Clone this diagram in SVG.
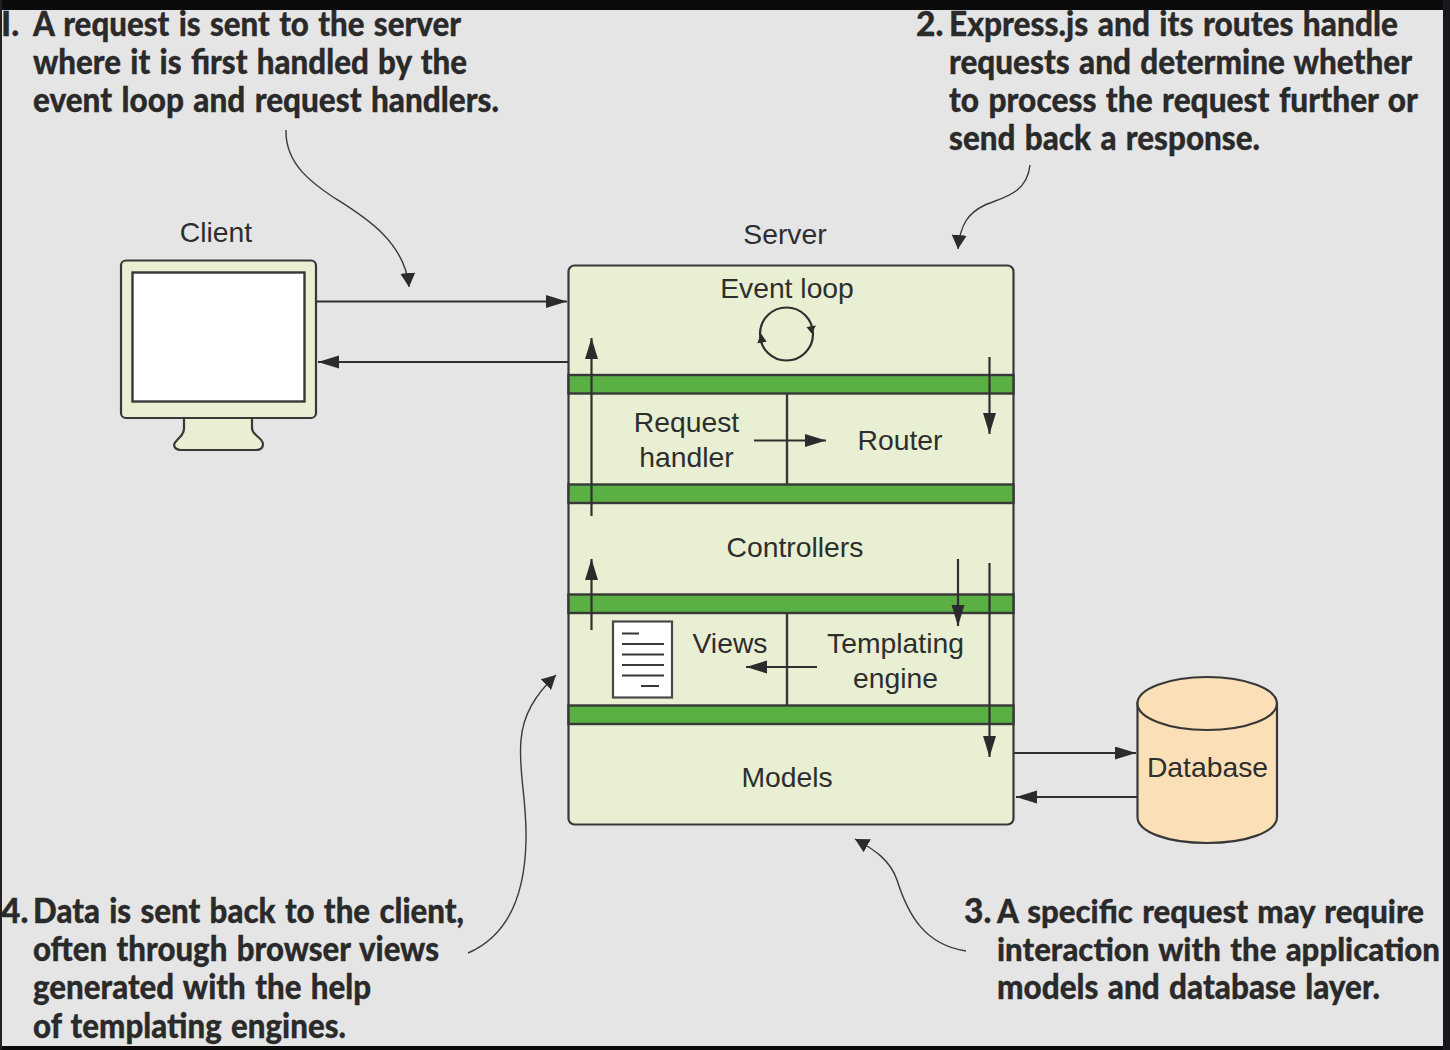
<svg xmlns="http://www.w3.org/2000/svg" width="1450" height="1050" viewBox="0 0 1450 1050">
<style>
.n{font-family:"Liberation Sans",Arial,sans-serif;font-size:28.3px;fill:#2e2e2e;text-anchor:middle}
.c{font-family:"Lato","Open Sans",sans-serif;font-size:33.5px;font-weight:900;fill:#2a2a2a;stroke:#2a2a2a;stroke-width:.3px;word-spacing:2px}
.t{font-size:32px}
.s{stroke:#383838;stroke-width:2.4;fill:none}
.b{fill:#5bb044;stroke:#383838;stroke-width:2.4}
.l{stroke:#2f2f2f;stroke-width:2.2;fill:none}
.q{stroke:#3a3a3a;stroke-width:1.4;fill:none}
.dl{stroke:#383838;stroke-width:2;fill:none}
</style>
<defs>
<marker id="a" markerUnits="userSpaceOnUse" markerWidth="24" markerHeight="16" refX="21" refY="6.500" orient="auto"><path d="M0 0L21 6.500L0 13z" fill="#2b2b2b"/></marker>
<marker id="k" markerUnits="userSpaceOnUse" markerWidth="18" markerHeight="18" refX="14" refY="7.500" orient="auto"><path d="M0 0L14 7.500L0 15z" fill="#2b2b2b"/></marker>
</defs>
<rect width="1450" height="1050" fill="#e5e5e5"/>
<rect width="1450" height="10" fill="#0b0b0b"/>
<rect y="1046" width="1450" height="4" fill="#0b0b0b"/>
<rect width="2" height="1050" fill="#222"/>
<rect x="1443" width="7" height="1050" fill="#16181b"/>
<g id="client">
<text class="n" x="216" y="242">Client</text>
<path d="M184 418V428Q184 433 180 437Q174 443 174 445Q175 450 181 450H256Q263 450 263 444Q263 441 257 436Q252 432 252 428V418z" fill="#e9efd2" stroke="#383838" stroke-width="2.2"/>
<rect x="121" y="260.500" width="195" height="157.500" rx="5" fill="#e9efd2" stroke="#383838" stroke-width="2.2"/>
<rect x="132.500" y="272.500" width="172" height="129" fill="#fff" stroke="#383838" stroke-width="2.4"/>
</g>
<g id="server">
<text class="n" x="785" y="244">Server</text>
<rect x="568.500" y="265.500" width="445" height="559" rx="6" fill="#e9efd2" stroke="#383838" stroke-width="2.2"/>
<rect class="b" x="568.500" y="375" width="445" height="18.500"/>
<rect class="b" x="568.500" y="484.500" width="445" height="18.500"/>
<rect class="b" x="568.500" y="594.500" width="445" height="18.500"/>
<rect class="b" x="568.500" y="705.500" width="445" height="18.500"/>
<line class="s" x1="787" y1="393.500" x2="787" y2="484.500"/>
<line class="s" x1="787" y1="613" x2="787" y2="705.500"/>
</g>
<g id="event-loop">
<text class="n" x="787" y="298">Event loop</text>
<circle class="l" cx="786.500" cy="334" r="26.500"/>
<path d="M806.500 327L816 325.500L811.500 333.500z" fill="#2b2b2b"/>
<path d="M757.300 343.300L766.700 341.700L761 333.500z" fill="#2b2b2b"/>
</g>
<g id="request-handler"><text class="n" x="686.500" y="431.500">Request</text><text class="n" x="686.500" y="467">handler</text></g>
<g id="router"><text class="n" x="900" y="450">Router</text></g>
<g id="controllers"><text class="n" x="795" y="557">Controllers</text></g>
<g id="views">
<text class="n" x="730" y="652.500">Views</text>
<rect x="613" y="621.500" width="59" height="76" fill="#fff" stroke="#4a4a4a" stroke-width="2.2"/>
<path class="dl" d="M622 633.500H639M622 644H664M622 654.500H664M622 665H664M622 675.500H664M641 686H659"/>
</g>
<g id="templating-engine"><text class="n" x="895.500" y="652.500">Templating</text><text class="n" x="895.500" y="688">engine</text></g>
<g id="models"><text class="n" x="787" y="787">Models</text></g>
<g id="database">
<path d="M1137.500 703V817C1137.500 832 1168 843 1207 843S1277 832 1277 817V703z" fill="#fbdfb6" stroke="#383838" stroke-width="2.2"/>
<ellipse cx="1207.200" cy="703.500" rx="69.700" ry="26.500" fill="#fbdfb6" stroke="#383838" stroke-width="2.2"/>
<text class="n" x="1207.500" y="777">Database</text>
</g>
<g id="connectors">
<line class="l" x1="317" y1="301.500" x2="567" y2="301.500" marker-end="url(#a)"/>
<line class="l" x1="568" y1="362" x2="318" y2="362" marker-end="url(#a)"/>
<line class="l" x1="591.500" y1="516" x2="591.500" y2="338" marker-end="url(#a)"/>
<line class="l" x1="989.500" y1="357" x2="989.500" y2="434" marker-end="url(#a)"/>
<line class="l" x1="754" y1="440.500" x2="826" y2="440.500" marker-end="url(#a)"/>
<line class="l" x1="591.500" y1="630" x2="591.500" y2="559" marker-end="url(#a)"/>
<line class="l" x1="958" y1="559" x2="958" y2="626" marker-end="url(#a)"/>
<line class="l" x1="989.500" y1="563" x2="989.500" y2="757" marker-end="url(#a)"/>
<line class="l" x1="817" y1="667" x2="746" y2="667" marker-end="url(#a)"/>
<line class="l" x1="1014" y1="753" x2="1136" y2="753" marker-end="url(#a)"/>
<line class="l" x1="1137" y1="797" x2="1016" y2="797" marker-end="url(#a)"/>
<path class="q" d="M286 130C285 165 315 185 333 197C360 214 405 240 409 287" marker-end="url(#k)"/>
<path class="q" d="M1030 165C1027 195 1000 198 985 205C968 213 960 225 958 249" marker-end="url(#k)"/>
<path class="q" d="M966 951C925 945 908 915 897 880C890 860 875 850 855 839" marker-end="url(#k)"/>
<path class="q" d="M468 953C505 937 525 900 526 840C527 800 518 770 521 740C523 715 535 695 556 675" marker-end="url(#k)"/>
</g>
<g id="callouts">
<text class="c" x="1" y="36">I.</text>
<text class="c" x="33" y="36" textLength="428" lengthAdjust="spacingAndGlyphs">A request is sent to the server</text>
<text class="c" x="33" y="74" textLength="434" lengthAdjust="spacingAndGlyphs">where it is first handled by the</text>
<text class="c" x="33" y="112" textLength="466" lengthAdjust="spacingAndGlyphs">event loop and request handlers.</text>
<text class="c" x="916" y="36">2.</text>
<text class="c" x="949" y="36" textLength="449" lengthAdjust="spacingAndGlyphs">Express.js and its routes handle</text>
<text class="c" x="949" y="74" textLength="463" lengthAdjust="spacingAndGlyphs">requests and determine whether</text>
<text class="c" x="949" y="112" textLength="469" lengthAdjust="spacingAndGlyphs">to process the request further or</text>
<text class="c" x="949" y="150" textLength="311" lengthAdjust="spacingAndGlyphs">send back a response.</text>
<text class="c" x="964" y="923">3.</text>
<text class="c t" x="997" y="923" textLength="427" lengthAdjust="spacingAndGlyphs">A specific request may require</text>
<text class="c t" x="997" y="961" textLength="443" lengthAdjust="spacingAndGlyphs">interaction with the application</text>
<text class="c" x="997" y="999" textLength="383" lengthAdjust="spacingAndGlyphs">models and database layer.</text>
<text class="c" x="1" y="923">4.</text>
<text class="c" x="33" y="923" textLength="431" lengthAdjust="spacingAndGlyphs">Data is sent back to the client,</text>
<text class="c" x="33" y="961" textLength="406" lengthAdjust="spacingAndGlyphs">often through browser views</text>
<text class="c" x="33" y="999" textLength="338" lengthAdjust="spacingAndGlyphs">generated with the help</text>
<text class="c" x="33" y="1038" textLength="313" lengthAdjust="spacingAndGlyphs">of templating engines.</text>
</g>
</svg>
